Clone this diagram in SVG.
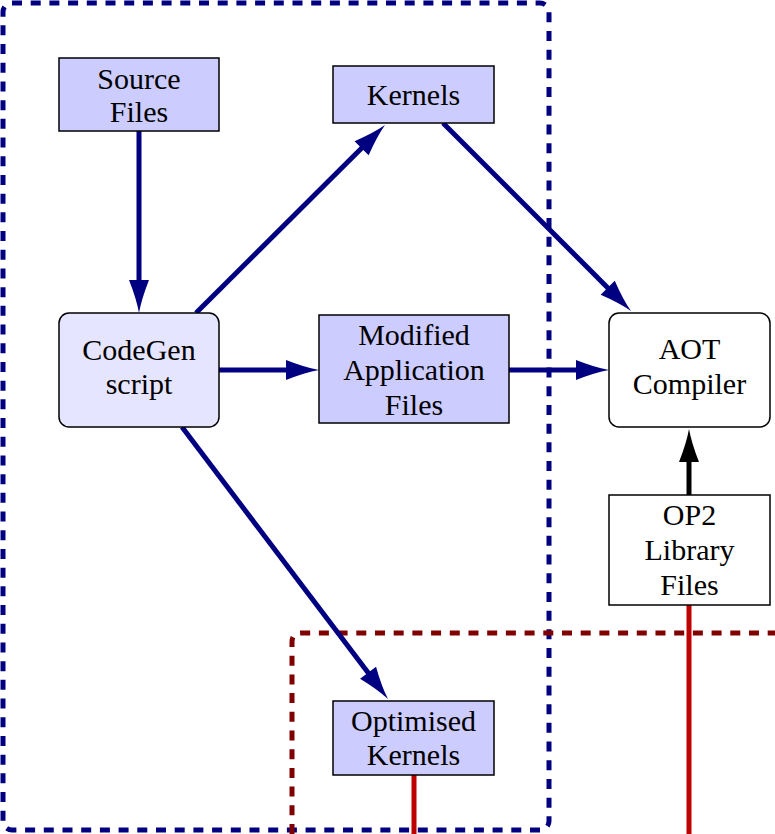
<svg xmlns="http://www.w3.org/2000/svg" width="775" height="834" viewBox="0 0 775 834">
<style>
.node rect{stroke:#000;stroke-width:1.5}
.dark{fill:#ccccff}
.light{fill:#e5e5ff}
.white{fill:#fff}
text{font-family:"Liberation Serif","DejaVu Serif",serif;font-size:30px;fill:#000;text-anchor:middle}
.arr{stroke:#000080;stroke-width:5;fill:none}
.arrk{stroke:#000;stroke-width:5;fill:none}
.red{stroke:#bf0000;stroke-width:5;fill:none}
</style>
<defs>
<marker id="ah" markerUnits="userSpaceOnUse" viewBox="-36 -12 38 24" markerWidth="38" markerHeight="24" refX="-20" refY="0" orient="auto">
<path d="M0,0 Q-14,-2.5 -33,-10 L-33,10 Q-14,2.5 0,0 Z" fill="#000080"/>
</marker>
<marker id="ahk" markerUnits="userSpaceOnUse" viewBox="-36 -12 38 24" markerWidth="38" markerHeight="24" refX="-20" refY="0" orient="auto">
<path d="M0,0 Q-14,-2.5 -33,-10 L-33,10 Q-14,2.5 0,0 Z" fill="#000"/>
</marker>
</defs>
<g id="regions">
<rect x="3" y="3" width="546" height="827" rx="9" fill="none" stroke="#000080" stroke-width="5" stroke-dasharray="10,8.7"/>
<path d="M292,834 V642 Q292,633 301,633 H775" fill="none" stroke="#800000" stroke-width="5" stroke-dasharray="10,8.7"/>
</g>
<g id="connectors">
<line class="arr" x1="139" y1="131" x2="139" y2="293" marker-end="url(#ah)"/>
<line class="arr" x1="196" y1="313" x2="370.8" y2="139.1" marker-end="url(#ah)"/>
<line class="arr" x1="443" y1="123" x2="616.9" y2="296.9" marker-end="url(#ah)"/>
<line class="arr" x1="219" y1="370" x2="299" y2="370" marker-end="url(#ah)"/>
<line class="arr" x1="509" y1="370" x2="589" y2="370" marker-end="url(#ah)"/>
<line class="arr" x1="182" y1="427" x2="375.9" y2="683.1" marker-end="url(#ah)"/>
<line class="arrk" x1="689" y1="495" x2="689" y2="449" marker-end="url(#ahk)"/>
<line class="red" x1="414" y1="775" x2="414" y2="834"/>
<line class="red" x1="689" y1="605" x2="689" y2="834"/>
</g>
<g id="source" class="node">
<rect class="dark" x="59" y="58" width="160" height="73"/>
<text x="139" y="89">Source</text>
<text x="139" y="122">Files</text>
</g>
<g id="kernels" class="node">
<rect class="dark" x="333" y="66" width="161" height="57"/>
<text x="413.5" y="105">Kernels</text>
</g>
<g id="codegen" class="node">
<rect class="light" x="59" y="313" width="160" height="114" rx="10"/>
<text x="139" y="360">CodeGen</text>
<text x="139" y="394">script</text>
</g>
<g id="modified" class="node">
<rect class="dark" x="319" y="315" width="190" height="108"/>
<text x="414" y="345">Modified</text>
<text x="414" y="380">Application</text>
<text x="414" y="415">Files</text>
</g>
<g id="aot" class="node">
<rect class="white" x="609" y="313" width="161" height="114" rx="10"/>
<text x="689.5" y="359">AOT</text>
<text x="689.5" y="394">Compiler</text>
</g>
<g id="op2" class="node">
<rect class="white" x="609" y="495" width="161" height="110"/>
<text x="689.5" y="525">OP2</text>
<text x="689.5" y="560">Library</text>
<text x="689.5" y="595">Files</text>
</g>
<g id="optimised" class="node">
<rect class="dark" x="333" y="701" width="161" height="74"/>
<text x="413.5" y="731">Optimised</text>
<text x="413.5" y="765">Kernels</text>
</g>
</svg>
